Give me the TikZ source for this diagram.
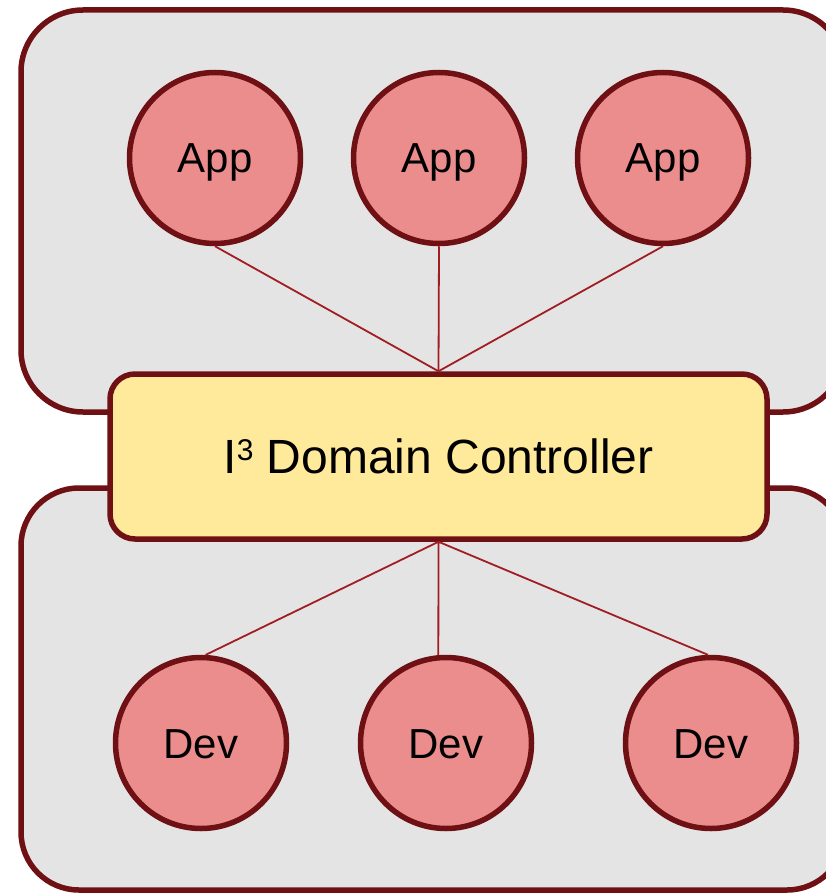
\documentclass[tikz,border=0pt]{standalone}
\usepackage{fontspec}
\setmainfont{Liberation Sans}
\usepackage{tikz}
\usetikzlibrary{calc}

\definecolor{rimred}{HTML}{6E1014}
\definecolor{linkred}{HTML}{A01E23}
\definecolor{zonegray}{HTML}{E4E4E4}
\definecolor{unitpink}{HTML}{EC8D8D}
\definecolor{ctrlyellow}{HTML}{FFE99A}

\newcommand{\cube}{\raisebox{13pt}{\fontsize{30}{30}\selectfont 3}}

\begin{document}
\begin{tikzpicture}[x=1pt, y=-1pt,
    zonebox/.style={draw=rimred, line width=5.5pt, fill=zonegray},
    unit/.style={circle, draw=rimred, line width=5.5pt, fill=unitpink,
        minimum size=171pt, inner sep=0pt, text height=30pt, text depth=0pt,
        font=\fontsize{42}{50}\selectfont},
    link/.style={linkred, line width=1.8pt}]

    %% Background
    \useasboundingbox (0,0) rectangle (826,893);
    \clip (0,0) rectangle (826,893);

    % Domains
    \draw[zonebox, rounded corners=62pt] (21,10) rectangle (845,412);
    \draw[zonebox, rounded corners=58pt] (21,488) rectangle (845,890);

    % Controller
    \node[draw=rimred, line width=5.5pt, fill=ctrlyellow, rounded corners=25pt,
        minimum width=657pt, minimum height=165pt, inner sep=0pt,
        font=\fontsize{48}{56}\selectfont]
        (ctrl) at (438.5,456.5) {I\cube\ Domain Controller};

    % Apps
    \node[unit] (app1) at (215,158) {App};
    \node[unit] (app2) at (439,158) {App};
    \node[unit] (app3) at (663,158) {App};

    % Devs
    \node[unit] (dev1) at (201,743) {Dev};
    \node[unit] (dev2) at (446,743) {Dev};
    \node[unit] (dev3) at (711,743) {Dev};

    % Links
    \foreach \i in {1,2,3}
    {
    \draw[link] (app\i.south) to (ctrl.north);
    }
    \draw[link]
    (ctrl.south) to (dev1.87)
    (ctrl.south) to (dev2.95)
    (ctrl.south) to (dev3.92)
    ;

\end{tikzpicture}
\end{document}
